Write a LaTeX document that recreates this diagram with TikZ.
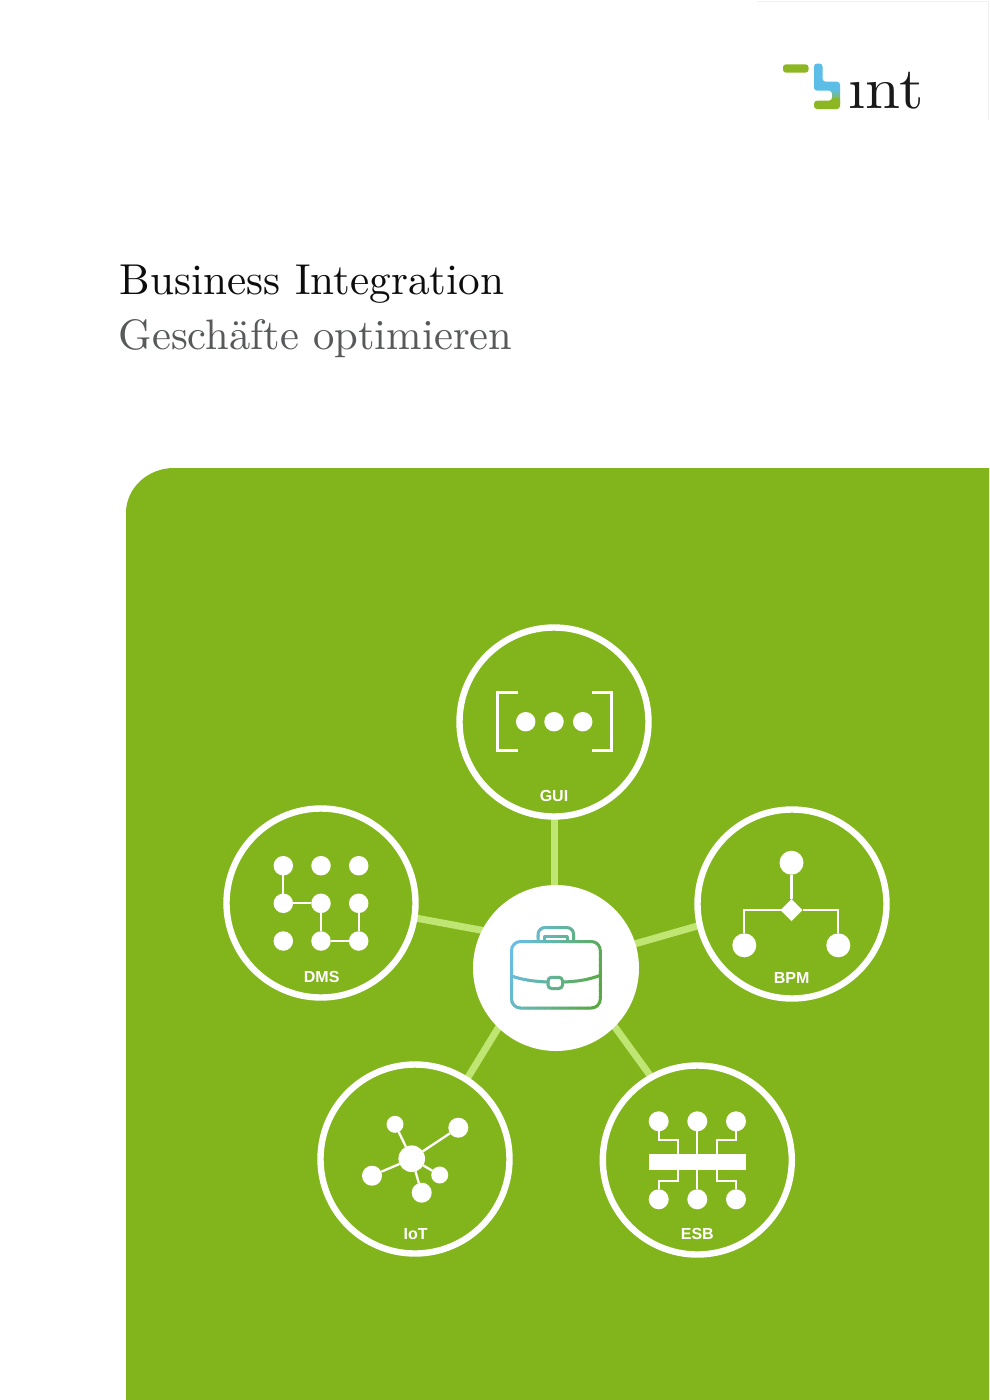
\documentclass[tikz,border=0pt]{standalone}
\usepackage{fontspec}
\newfontfamily\labelfont{Liberation Sans}
\usetikzlibrary{shapes.geometric}
\pgfdeclarelayer{background}
\pgfsetlayers{background,main}
\definecolor{panelgreen}{HTML}{82B41C}
\definecolor{spokegreen}{HTML}{BFE672}
\definecolor{logoblue}{HTML}{5CBDE6}
\definecolor{logogreen}{HTML}{8DB722}
\definecolor{iconblue}{HTML}{6ABDE6}
\definecolor{icongreen}{HTML}{5AA845}
\definecolor{subgray}{HTML}{58595B}
\definecolor{edgegray}{HTML}{F0F0F0}
\tikzset{
  ring/.style={circle,draw=white,line width=6.4pt,minimum size=189pt,inner sep=0pt,outer sep=0pt},
  hubdisc/.style={circle,fill=white,minimum size=166pt,inner sep=0pt,outer sep=0pt},
  spoke/.style={draw=spokegreen,line width=7pt},
  wire/.style={draw=white,line width=2.3pt},
  bracket/.style={draw=white,line width=3.2pt},
  dotA/.style={circle,fill=white,minimum size=19.5pt,inner sep=0pt,outer sep=0pt},
  dotB/.style={circle,fill=white,minimum size=24pt,inner sep=0pt,outer sep=0pt},
  dotC/.style={circle,fill=white,minimum size=20pt,inner sep=0pt,outer sep=0pt},
  dotD/.style={circle,fill=white,minimum size=17pt,inner sep=0pt,outer sep=0pt},
  iconlabel/.style={text=white,inner sep=0pt,font=\labelfont\bfseries\fontsize{16}{16}\selectfont},
  titletext/.style={anchor=base west,inner sep=0pt,font=\fontsize{10}{10}\selectfont},
  casestroke/.style={line width=3pt,line join=round}
}
\begin{document}
\begin{tikzpicture}[x=1pt,y=-1pt]
\useasboundingbox (0,0) rectangle (989,1400);
\begin{pgfonlayer}{background}
\fill[white] (0,0) rectangle (989,1400);
\draw[edgegray,line width=1pt] (757,1) -- (988.5,1) -- (988.5,120);
\fill[panelgreen] (989,468) -- (174,468) arc[start angle=90,end angle=180,x radius=48,y radius=-45] -- (126,1400) -- (989,1400) -- cycle;
\end{pgfonlayer}

% logo
\fill[logogreen,rounded corners=3pt] (783,64.3) rectangle (808.5,72.7);
\fill[logoblue,rounded corners=3pt] (814,63.5) -- (822.5,63.5) -- (822.5,81.7) -- (840,81.7) -- (840,93) -- (832,93) -- (832,90.7) -- (814,90.7) -- cycle;
\shade[top color=logoblue,bottom color=logogreen] (832,89) rectangle (840,103);
\fill[logogreen,rounded corners=3pt] (814,100.7) -- (832,100.7) -- (832,98) -- (840,98) -- (840,109) -- (814,109) -- cycle;
\node[anchor=base west,inner sep=0pt,text=black!90,xscale=6.3,yscale=5.9,font=\fontsize{10}{10}\selectfont] (logotext) at (847,108.8) {ınt};

% titles
\node[titletext,text=black!95,scale=4.32] (title) at (119,294.3) {Business Integration};
\node[titletext,text=subgray,scale=4.26] (subtitle) at (118,349.6) {Geschäfte optimieren};

% hub and satellites
\node[hubdisc] (hub) at (556,968) {};
\node[ring] (gui) at (554,722) {};
\node[ring] (dms) at (321,903) {};
\node[ring] (bpm) at (792,904) {};
\node[ring] (iot) at (415,1159) {};
\node[ring] (esb) at (697.3,1160) {};

\begin{pgfonlayer}{background}
\draw[spoke] (gui.south) -- (gui.south |- hub.north) -- ++(0,3);
\draw[spoke,shorten >=-2pt] (dms.-9) -- (hub.153);
\draw[spoke,shorten >=-2pt] (bpm.193.6) -- (hub.17.8);
\draw[spoke,shorten >=-2pt] (iot.57) -- (hub.226);
\draw[spoke,shorten >=-2pt] (esb.119) -- (hub.-45.5);
\end{pgfonlayer}

% labels
\node[iconlabel] (guilabel) at (554,796) {GUI};
\node[iconlabel] (dmslabel) at (321.7,977) {DMS};
\node[iconlabel] (bpmlabel) at (791.7,978) {BPM};
\node[iconlabel] (iotlabel) at (415.7,1234) {IoT};
\node[iconlabel] (esblabel) at (697.3,1234) {ESB};

% GUI icon
\draw[bracket] (518,692.3) -- (497.3,692.3) -- (497.3,750.7) -- (518,750.7);
\draw[bracket] (592.3,692.3) -- (611.7,692.3) -- (611.7,750.7) -- (592.3,750.7);
\node[dotA] (g1) at (525.7,721.7) {};
\node[dotA] (g2) at (554,721.7) {};
\node[dotA] (g3) at (582.7,721.7) {};

% DMS icon
\foreach \c/\x in {1/283.3,2/321,3/358.7}
  \foreach \r/\y in {1/865.7,2/903.3,3/941}
    \node[dotA] (d\r\c) at (\x,\y) {};
\draw[wire] (d11) -- (d21);
\draw[wire] (d21) -- (d22);
\draw[wire] (d22) -- (d32);
\draw[wire] (d32) -- (d33);
\draw[wire] (d33) -- (d23);

% BPM icon
\node[dotB] (b0) at (791.5,862.7) {};
\node[dotB] (b1) at (744.3,945.3) {};
\node[dotB] (b2) at (838.3,945.3) {};
\node[diamond,fill=white,minimum size=22pt,inner sep=0pt,outer sep=0pt] (bd) at (791.5,910) {};
\draw[wire] (b0) -- (bd);
\draw[wire] (bd.west) -| (b1);
\draw[wire] (bd.east) -| (b2);

% IoT icon
\node[circle,fill=white,minimum size=26.6pt,inner sep=0pt,outer sep=0pt] (i0) at (411.7,1158.7) {};
\node[dotD] (i1) at (395,1124.3) {};
\node[dotC] (i2) at (458.3,1127.7) {};
\node[dotC] (i3) at (372,1175.7) {};
\node[dotC] (i4) at (421.7,1192.7) {};
\node[dotD] (i5) at (439.7,1175) {};
\foreach \n in {i1,i2,i3,i4,i5} \draw[wire] (i0) -- (\n);

% ESB icon
\node[fill=white,minimum width=96.7pt,minimum height=16pt,inner sep=0pt,outer sep=0pt] (bar) at (697.3,1161.7) {};
\node[dotC] (e1) at (658.7,1121.3) {};
\node[dotC] (e2) at (697.3,1121.3) {};
\node[dotC] (e3) at (736,1121.3) {};
\node[dotC] (e4) at (658.7,1199.3) {};
\node[dotC] (e5) at (697.3,1199.3) {};
\node[dotC] (e6) at (736,1199.3) {};
\coordinate (ta) at (677.7,1140);
\coordinate (tb) at (716.7,1140);
\coordinate (ba) at (677.7,1180.7);
\coordinate (bb) at (716.7,1180.7);
\draw[wire] (e1) |- (ta) -- (ta |- bar.north);
\draw[wire] (e3) |- (tb) -- (tb |- bar.north);
\draw[wire] (e4) |- (ba) -- (ba |- bar.south);
\draw[wire] (e6) |- (bb) -- (bb |- bar.south);
\draw[wire] (e2) -- (e5);

% briefcase: stroke graded from blue to green in thin slices
\foreach \i in {-16,...,60}{
  \pgfmathsetmacro{\pct}{max(0,min(100,\i/44*100))}
  \pgfmathsetmacro{\xa}{498+\i*2.27}
  \pgfmathsetmacro{\xb}{\xa+2.7}
  \colorlet{slice}{icongreen!\pct!iconblue}
  \begin{scope}
    \clip (\xa+24,920) -- (\xb+24,920) -- (\xb-12,1020) -- (\xa-12,1020) -- cycle;
    \draw[casestroke,draw=slice,rounded corners=9pt] (511.5,941.5) rectangle (600.3,1008);
    \draw[casestroke,draw=slice,rounded corners=7pt] (538,941.5) -- (538,927.5) -- (573.7,927.5) -- (573.7,941.5);
    \draw[casestroke,draw=slice] (544,941.5) -- (544,936.5) -- (567.5,936.5) -- (567.5,941.5);
    \draw[casestroke,draw=slice] (511,975.7) .. controls (522,980) and (535,981.5) .. (548,982);
    \draw[casestroke,draw=slice] (563,982) .. controls (578,981.5) and (590,979.5) .. (601,975);
    \draw[casestroke,draw=slice,rounded corners=3.5pt] (548,977.3) rectangle (562.5,988.5);
  \end{scope}
}
\end{tikzpicture}
\end{document}
